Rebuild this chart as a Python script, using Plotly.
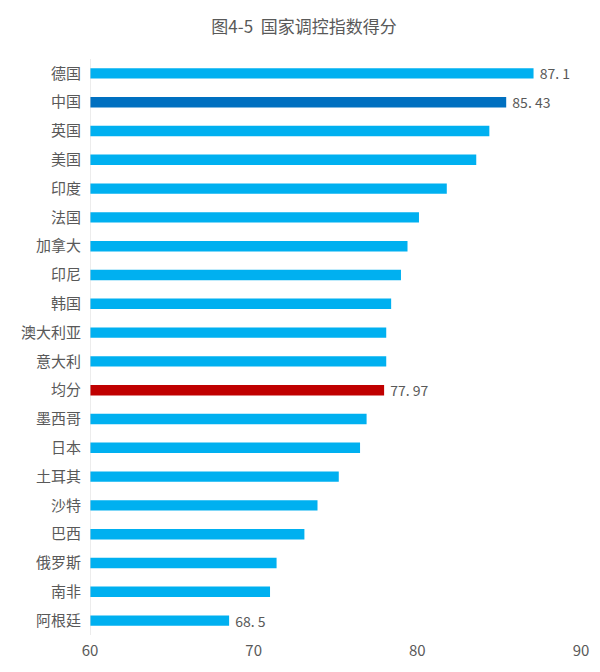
import plotly.graph_objects as go

countries = ["德国", "中国", "英国", "美国", "印度", "法国", "加拿大", "印尼", "韩国", "澳大利亚",
             "意大利", "均分", "墨西哥", "日本", "土耳其", "沙特", "巴西", "俄罗斯", "南非", "阿根廷"]
scores = [87.1, 85.43, 84.4, 83.6, 81.8, 80.1, 79.4, 79.0, 78.4, 78.1,
          78.1, 77.97, 76.9, 76.5, 75.2, 73.9, 73.1, 71.4, 71.0, 68.5]
labels = ["87. 1", "85. 43", "", "", "", "", "", "", "", "",
          "", "77. 97", "", "", "", "", "", "", "", "68. 5"]
x_ticks = [60, 70, 80, 90]

colors = []
for c in countries:
    if c == "中国":
        colors.append("#0070C0")
    elif c == "均分":
        colors.append("#C00000")
    else:
        colors.append("#00B0F0")

fig = go.Figure(go.Bar(
    y=countries,
    x=[s - 60 for s in scores],
    base=60,
    orientation="h",
    marker=dict(color=colors, line=dict(width=0)),
    width=0.36,
    text=[(" " + t) if t else "" for t in labels],
    textposition="outside",
    constraintext="none",
    cliponaxis=False,
    textfont=dict(family="Noto Sans CJK SC", size=14, color="#595959"),
    hoverinfo="skip",
))

fig.update_layout(
    width=592, height=664,
    margin=dict(l=82, r=19, t=51, b=37, autoexpand=False),
    paper_bgcolor="white", plot_bgcolor="white",
    title=dict(text="图4-5  国家调控指数得分", x=0.5, xanchor="center", y=0.971, yanchor="middle",
               font=dict(family="Noto Sans CJK SC", size=17, color="#595959")),
    showlegend=False,
    font=dict(family="Noto Sans CJK SC", color="#595959"),
)
fig.update_xaxes(range=[60, 90], tickvals=x_ticks, showgrid=False, zeroline=False,
                 showline=False, ticks="", ticklabelstandoff=5,
                 tickfont=dict(size=15, color="#595959"))
fig.update_yaxes(autorange="reversed", categoryorder="array", categoryarray=countries,
                 showgrid=False, zeroline=False, showline=False, ticks="", ticklabelstandoff=8,
                 tickfont=dict(size=15, color="#595959"))
fig.add_shape(type="line", xref="x", yref="paper", x0=60, x1=60, y0=0, y1=1,
              line=dict(color="#D9D9D9", width=1))

fig.write_html("out.html")
